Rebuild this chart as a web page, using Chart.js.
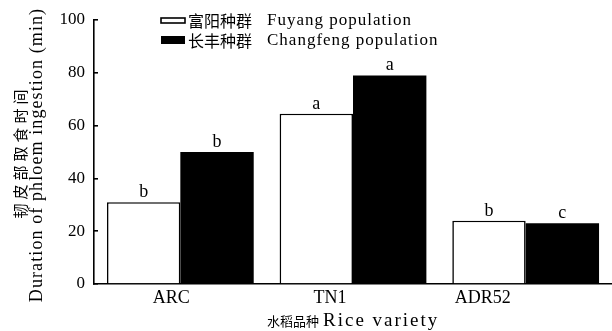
<!DOCTYPE html>
<html>
<head>
<meta charset="utf-8">
<script src="https://cdn.jsdelivr.net/npm/chart.js@4.4.1/dist/chart.umd.min.js"></script>
<style>
html,body{margin:0;padding:0;background:#fff;}
#wrap{width:612px;height:331px;position:relative;}
</style>
</head>
<body>
<div id="wrap"><canvas id="c" width="612" height="331"></canvas></div>
<script>
const categories = ['ARC', 'TN1', 'ADR52'];
const fuyangValues = [31, 64.5, 24];
const changfengValues = [50, 79, 23];
const fuyangLetters = ['b', 'a', 'b'];
const changfengLetters = ['b', 'a', 'c'];
const seriesLabels = ['富阳种群 Fuyang population', '长丰种群 Changfeng population'];
const yTitleLines = ['韧皮部取食时间', 'Duration of phloem ingestion (min)'];
const xTitle = '水稻品种 Rice variety';
const yTicks = [0, 20, 40, 60, 80, 100];

// styling: horizontal nudges of the category labels as placed in the original figure
const categoryLabelShift = [-9, -23, -43];

const SERIF = '"Liberation Serif", "Times New Roman", serif';
const CJK = '"Noto Sans CJK SC", sans-serif';

const letters = [fuyangLetters, changfengLetters];

function splitCnEn(s) {
  const i = s.indexOf(' ');
  return [s.slice(0, i), s.slice(i + 1)];
}

const decor = {
  id: 'decor',
  afterDraw(chart) {
    const ctx = chart.ctx;
    ctx.save();
    ctx.fillStyle = '#000';

    // significance letters
    ctx.font = '18px ' + SERIF;
    ctx.textAlign = 'center';
    ctx.textBaseline = 'alphabetic';
    chart.data.datasets.forEach((ds, di) => {
      const meta = chart.getDatasetMeta(di);
      meta.data.forEach((bar, i) => {
        ctx.fillText(letters[di][i], bar.x, bar.y - 5);
      });
    });

    // category labels
    const xs = chart.scales.x;
    ctx.font = '18px ' + SERIF;
    ctx.textAlign = 'center';
    ctx.textBaseline = 'middle';
    chart.data.labels.forEach((lab, i) => {
      ctx.fillText(lab, xs.getPixelForValue(i) + categoryLabelShift[i], 298);
    });

    // legend
    const lx = 161, rows = [21, 41];
    chart.data.datasets.forEach((ds, di) => {
      const y = rows[di];
      if (di === 0) {
        ctx.fillStyle = '#fff';
        ctx.fillRect(lx, y - 3, 24, 5);
        ctx.strokeStyle = '#000';
        ctx.lineWidth = 1.6;
        ctx.strokeRect(lx, y - 3, 24, 5);
      } else {
        ctx.fillStyle = '#000';
        ctx.fillRect(lx, y - 5, 24, 8);
      }
      ctx.fillStyle = '#000';
      ctx.textAlign = 'left';
      ctx.textBaseline = 'middle';
      const [cn, en] = splitCnEn(ds.label);
      ctx.font = '16px ' + CJK;
      ctx.letterSpacing = '0px';
      ctx.fillText(cn, lx + 27, y);
      ctx.font = '17px ' + SERIF;
      ctx.letterSpacing = '1px';
      ctx.fillText(en, lx + 106, y);
      ctx.letterSpacing = '0px';
    });

    // y title
    ctx.save();
    ctx.translate(20, 152);
    ctx.rotate(-Math.PI / 2);
    ctx.textAlign = 'center';
    ctx.textBaseline = 'middle';
    ctx.font = '15px ' + CJK;
    ctx.letterSpacing = '4px';
    ctx.fillText(yTitleLines[0], 0, 0);
    ctx.restore();
    ctx.save();
    ctx.translate(37, 155);
    ctx.rotate(-Math.PI / 2);
    ctx.textAlign = 'center';
    ctx.textBaseline = 'middle';
    ctx.font = '18px ' + SERIF;
    ctx.letterSpacing = '1.1px';
    ctx.fillText(yTitleLines[1], 0, 0);
    ctx.restore();

    // x title
    const [cnX, enX] = splitCnEn(xTitle);
    ctx.textAlign = 'left';
    ctx.textBaseline = 'middle';
    ctx.font = '13px ' + CJK;
    ctx.letterSpacing = '0px';
    ctx.fillText(cnX, 267, 321);
    ctx.font = '19px ' + SERIF;
    ctx.letterSpacing = '2px';
    ctx.fillText(enX, 323, 321);
    ctx.restore();
  }
};

new Chart(document.getElementById('c'), {
  type: 'bar',
  data: {
    labels: categories,
    datasets: [
      { label: seriesLabels[0], data: fuyangValues, backgroundColor: '#fff', borderColor: '#000', borderWidth: 1.6, borderSkipped: 'bottom' },
      { label: seriesLabels[1], data: changfengValues, backgroundColor: '#000', borderColor: '#000', borderWidth: 0 }
    ]
  },
  options: {
    responsive: false,
    animation: false,
    devicePixelRatio: 1,
    layout: { padding: { top: 20, right: 0, left: 0, bottom: 0 } },
    datasets: { bar: { categoryPercentage: 0.85, barPercentage: 1.0 } },
    plugins: { legend: { display: false }, tooltip: { enabled: false } },
    scales: {
      x: {
        grid: { display: false },
        border: { display: true, color: '#000', width: 1.6 },
        ticks: { display: false },
        afterFit(scale) { scale.height = 47; scale.paddingLeft = 0; scale.paddingRight = 0; }
      },
      y: {
        min: 0, max: 100,
        afterBuildTicks(scale) { scale.ticks = yTicks.map(v => ({ value: v })); },
        grid: { display: true, drawOnChartArea: false, drawTicks: true, tickLength: -4, color: '#000', lineWidth: 1.6 },
        border: { display: true, color: '#000', width: 1.6 },
        ticks: { color: '#000', font: { family: SERIF, size: 17 }, padding: 13 },
        afterFit(scale) { scale.width = 94; scale.paddingTop = 0; scale.paddingBottom = 0; }
      }
    }
  },
  plugins: [decor]
});
</script>
</body>
</html>
